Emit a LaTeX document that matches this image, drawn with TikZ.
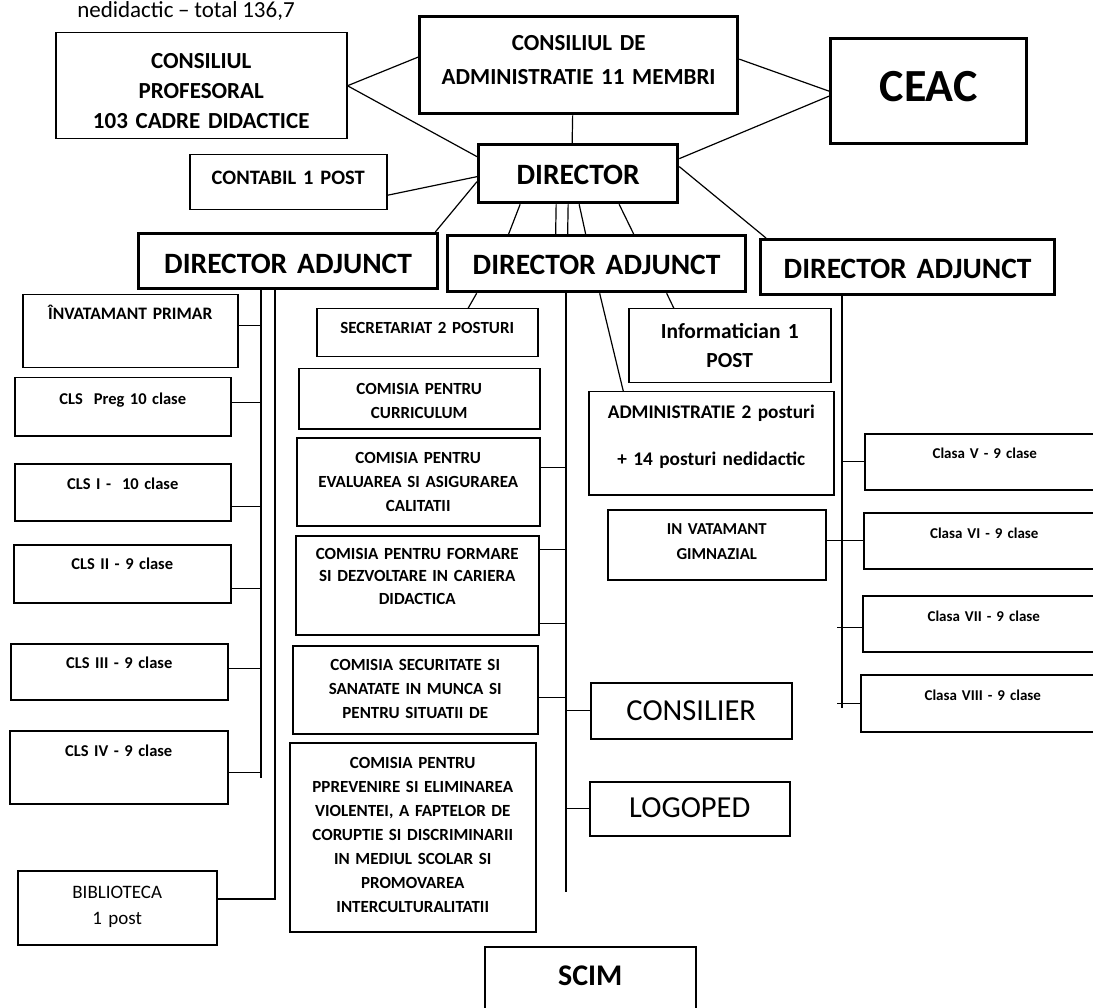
\documentclass[tikz,border=0pt]{standalone}
\usepackage{fontspec}
\setmainfont{Carlito}[WordSpace=0.9]

\begin{document}
\begin{tikzpicture}[x=1pt, y=-1pt,
		box/.style={draw, line width=1.5pt, inner sep=0pt, align=center, anchor=north west, font=\bfseries},
		bigbox/.style={box, line width=3.3pt},
		adjbox/.style={bigbox, font=\fontsize{29.5}{32}\selectfont\bfseries},
		clsbox/.style={box, font=\fontsize{16.5}{19}\selectfont\bfseries},
		combox/.style={box, font=\fontsize{17}{24}\selectfont\bfseries},
		clasabox/.style={box, font=\fontsize{15}{18}\selectfont\bfseries},
		conn/.style={line width=1.2pt},
		]
		\useasboundingbox (0,0) rectangle (1093,1008);
		%Nodes
		\node[anchor=base, font=\fontsize{23}{26}\selectfont] (total) at (186,18) {nedidactic – total 136,7};
		\node[box, text width=291pt, text height=35.5pt, text depth=70.5pt, font=\fontsize{23}{30}\selectfont\bfseries] (prof) at (55,32) {CONSILIUL\\PROFESORAL\\103 CADRE DIDACTICE};
		\node[bigbox, text width=318pt, text height=33.4pt, text depth=63.6pt, font=\fontsize{23}{34}\selectfont\bfseries] (admin) at (418,15) {CONSILIUL DE\\ADMINISTRATIE 11 MEMBRI};
		\node[bigbox, text width=196pt, text height=63pt, text depth=42pt, font=\fontsize{46}{50}\selectfont\bfseries] (ceac) at (829,37) {CEAC};
		\node[bigbox, text width=199pt, text height=39.5pt, text depth=18.5pt, font=\fontsize{29.5}{32}\selectfont\bfseries] (dir) at (477,143) {DIRECTOR};
		\node[box, text width=197pt, text height=29.6pt, text depth=25.4pt, font=\fontsize{20.5}{24}\selectfont\bfseries] (contabil) at (189,154) {CONTABIL 1 POST};
		\node[adjbox, text width=299pt, text height=39.5pt, text depth=15.5pt] (adj1) at (137,232) {DIRECTOR ADJUNCT};
		\node[adjbox, text width=298pt, text height=38.5pt, text depth=17.5pt] (adj2) at (446,234) {DIRECTOR ADJUNCT};
		\node[adjbox, text width=294pt, text height=38.5pt, text depth=16.5pt] (adj3) at (759,238) {DIRECTOR ADJUNCT};
		
		\node[clsbox, text width=215pt, text height=24.6pt, text depth=48.4pt, font=\fontsize{17.5}{20}\selectfont\bfseries] (primar) at (22,294) {ÎNVATAMANT PRIMAR};
		\node[clsbox, text width=216pt, text height=26.3pt, text depth=31.7pt] (preg) at (14,377) {CLS~ Preg 10 clase};
		\node[clsbox, text width=216pt, text height=25.3pt, text depth=31.7pt] (cls1) at (14,463) {CLS I -~ 10 clase};
		\node[clsbox, text width=217pt, text height=24.3pt, text depth=33.7pt] (cls2) at (13,544) {CLS II - 9 clase};
		\node[clsbox, text width=217pt, text height=24.3pt, text depth=31.7pt] (cls3) at (10,643) {CLS III - 9 clase};
		\node[clsbox, text width=218pt, text height=25.3pt, text depth=47.7pt] (cls4) at (9,730) {CLS IV - 9 clase};
		\node[box, text width=199pt, text height=28pt, text depth=46pt, font=\fontsize{19}{26}\selectfont] (biblio) at (17,870) {BIBLIOTECA\\1 post};
		
		\node[combox, text width=221pt, text height=24.5pt, text depth=23.5pt] (secret) at (316,308) {SECRETARIAT 2 POSTURI};
		\node[combox, text width=241pt, text height=25.5pt, text depth=34.5pt] (curric) at (298,368) {COMISIA PENTRU\\CURRICULUM};
		\node[combox, text width=243pt, text height=25.5pt, text depth=62.5pt] (eval) at (296,437) {COMISIA PENTRU\\EVALUAREA SI ASIGURAREA\\CALITATII};
		\node[combox, text width=243pt, text height=23.5pt, text depth=75.5pt, font=\fontsize{17}{22.5}\selectfont\bfseries] (formare) at (295,535) {COMISIA PENTRU FORMARE\\SI DEZVOLTARE IN CARIERA\\DIDACTICA};
		\node[combox, text width=245pt, text height=24.5pt, text depth=63.5pt] (secur) at (292,645) {COMISIA SECURITATE SI\\SANATATE IN MUNCA SI\\PENTRU SITUATII DE};
		\node[combox, text width=246pt, text height=25.5pt, text depth=163.5pt] (violenta) at (289,742) {COMISIA PENTRU\\PPREVENIRE SI ELIMINAREA\\VIOLENTEI, A FAPTELOR DE\\CORUPTIE SI DISCRIMINARII\\IN MEDIUL SCOLAR SI\\PROMOVAREA\\INTERCULTURALITATII};
		\node[box, text width=211pt, text height=38.7pt, text depth=45.3pt, font=\fontsize{30}{34}\selectfont\bfseries] (scim) at (484,946) {SCIM};
		
		\node[box, text width=202pt, text height=30pt, text depth=44pt, font=\fontsize{21.5}{29}\selectfont\bfseries] (info) at (628,308) {Informatician 1\\POST};
		\node[box, text width=245pt, text height=27.2pt, text depth=75.8pt, font=\fontsize{19.3}{47}\selectfont\bfseries] (administr) at (588,391) {ADMINISTRATIE 2 posturi\\+ 14 posturi nedidactic};
		\node[box, text width=218pt, text height=24.4pt, text depth=45.6pt, font=\fontsize{16.7}{25}\selectfont\bfseries] (gimn) at (607,509) {IN VATAMANT\\GIMNAZIAL};
		\node[box, text width=201pt, text height=37.8pt, text depth=18.2pt, font=\fontsize{30.5}{34}\selectfont] (consilier) at (590,682) {CONSILIER};
		\node[box, text width=200pt, text height=35.8pt, text depth=18.2pt, font=\fontsize{30.5}{34}\selectfont] (logoped) at (589,781) {LOGOPED};
		
		\node[clasabox, text width=240pt, text height=24.8pt, text depth=31.2pt] (cl5) at (864,433) {Clasa V - 9 clase};
		\node[clasabox, text width=241pt, text height=25.8pt, text depth=30.2pt] (cl6) at (863,512) {Clasa VI - 9 clase};
		\node[clasabox, text width=242pt, text height=25.8pt, text depth=30.2pt] (cl7) at (862,595) {Clasa VII - 9 clase};
		\node[clasabox, text width=244pt, text height=25.8pt, text depth=31.2pt] (cl8) at (860,674) {Clasa VIII - 9 clase};
		
		%Bus ends
		\coordinate (lbus) at (261,778);
		\coordinate (bbus) at (275,899);
		\coordinate (mbus) at (566,892);
		\coordinate (rbus) at (842,708);
		
		%Top links
		\draw[conn] (prof.east) -- ([yshift=8pt]admin.west);
		\draw[conn] (prof.east) -- ([yshift=17pt]dir.west);
		\draw[conn] ([yshift=6pt]admin.east) -- (ceac.west);
		\draw[conn] ([yshift=15pt]dir.east) -- ([yshift=-5pt]ceac.west);
		\draw[conn] ([xshift=-6pt]admin.south) -- ([xshift=-6pt]dir.north);
		\draw[conn] ([yshift=-13pt]contabil.east) -- ([yshift=-3pt]dir.west);
		\draw[conn] ([yshift=-8pt]dir.west) -- ([xshift=-4pt]adj1.north east);
		\draw[conn] ([yshift=7pt]dir.east) -- ([xshift=7pt]adj3.north west);
		\draw[conn] ([xshift=-58pt]dir.south) -- ([xshift=-88pt]adj2.north);
		\draw[conn] ([xshift=-22pt]dir.south) -- ([xshift=-41pt]adj2.north);
		\draw[conn] ([xshift=-10pt]dir.south) -- ([xshift=-29pt]adj2.north);
		\draw[conn] ([xshift=1pt]dir.south) -- ([xshift=-11pt]adj2.north);
		\draw[conn] ([xshift=41pt]dir.south) -- ([xshift=37pt]adj2.north);
		
		%Director adjunct 1
		\draw[conn] (adj1.south -| lbus) -- (lbus);
		\draw[conn] (adj1.south -| bbus) -- (bbus) -- (bbus -| biblio.east);
		\draw[conn] ([yshift=6pt]primar.east) -- ([yshift=6pt]primar.east -| lbus);
		\draw[conn] ([yshift=4pt]preg.east) -- ([yshift=4pt]preg.east -| lbus);
		\draw[conn] ([yshift=-14pt]cls1.east) -- ([yshift=-14pt]cls1.east -| lbus);
		\draw[conn] ([yshift=-15pt]cls2.east) -- ([yshift=-15pt]cls2.east -| lbus);
		\draw[conn] ([yshift=3pt]cls3.east) -- ([yshift=3pt]cls3.east -| lbus);
		\draw[conn] ([yshift=-5pt]cls4.east) -- ([yshift=-5pt]cls4.east -| lbus);
		
		%Director adjunct 2
		\draw[conn] ([xshift=-120pt]adj2.south) -- ([xshift=41pt]secret.north);
		\draw[conn] ([xshift=3pt]adj2.south) -- ([xshift=-88pt]administr.north);
		\draw[conn] ([xshift=70pt]adj2.south) -- ([xshift=-56pt]info.north);
		\draw[conn] (adj2.south -| mbus) -- (mbus);
		\draw[conn] ([yshift=14pt]eval.east) -- ([yshift=14pt]eval.east -| mbus);
		\draw[conn] ([yshift=36pt]formare.east) -- ([yshift=36pt]formare.east -| mbus);
		\draw[conn] ([yshift=-38pt]formare.east) -- ([yshift=-38pt]formare.east -| mbus);
		\draw[conn] ([yshift=-8pt]secur.east) -- ([yshift=-8pt]secur.east -| mbus);
		\draw[conn] (consilier.west -| mbus) -- (consilier.west);
		\draw[conn] (logoped.west -| mbus) -- (logoped.west);
		
		%Director adjunct 3
		\draw[conn] (adj3.south -| rbus) -- (rbus);
		\draw[conn] (cl5.west -| rbus) -- (cl5.west);
		\draw[conn] (gimn.east |- cl6.west) -- (cl6.west);
		\draw[conn] ([xshift=-5pt,yshift=-4pt]cl7.west -| rbus) -- ([yshift=-4pt]cl7.west);
		\draw[conn] ([xshift=-5pt]cl8.west -| rbus) -- (cl8.west);
\end{tikzpicture}
\end{document}
